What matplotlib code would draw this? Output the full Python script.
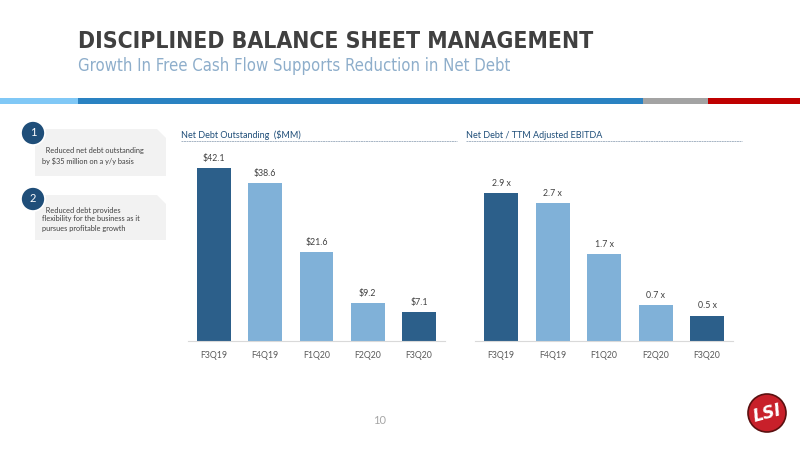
import matplotlib.pyplot as plt
from matplotlib.patches import Polygon, Circle, Rectangle

quarters = ['F3Q19', 'F4Q19', 'F1Q20', 'F2Q20', 'F3Q20']
net_debt = [42.1, 38.6, 21.6, 9.2, 7.1]
leverage = [2.9, 2.7, 1.7, 0.7, 0.5]
debt_labels = ['$42.1', '$38.6', '$21.6', '$9.2', '$7.1']
lev_labels = ['2.9 x', '2.7 x', '1.7 x', '0.7 x', '0.5 x']

title = 'DISCIPLINED BALANCE SHEET MANAGEMENT'
subtitle = 'Growth In Free Cash Flow Supports Reduction in Net Debt'
bullets = [['  Reduced net debt outstanding', 'by $35 million on a y/y basis'],
           ['  Reduced debt provides', 'flexibility for the business as it',
            'pursues profitable growth']]

dark = '#2c5f8a'
light = '#80b1d8'
bar_colors = [dark, light, light, light, dark]
body = ['Lato', 'DejaVu Sans']

W, H = 800, 450
fig = plt.figure(figsize=(8, 4.5), dpi=100)
bg = fig.add_axes([0, 0, 1, 1])
bg.set_xlim(0, W)
bg.set_ylim(H, 0)
bg.axis('off')

# header
bg.text(78, 42, title, family='DejaVu Sans', fontstretch='condensed', fontweight='bold',
        fontsize=16.5, color='#404040', va='center', ha='left')
bg.text(78, 66, subtitle, family='DejaVu Sans', fontstretch='condensed', fontsize=12,
        color='#8eaecb', va='center', ha='left')
for x0, x1, c in [(0, 78, '#80c8f6'), (78, 643, '#2a82c2'),
                  (643, 708, '#a3a3a3'), (708, 800, '#bf0000')]:
    bg.add_patch(Rectangle((x0, 98), x1 - x0, 6, color=c, lw=0))

# bullet boxes
for i, (top, bot) in enumerate([(129, 176), (195, 240)]):
    bg.add_patch(Polygon([(35, top), (157, top), (166, top + 9), (166, bot), (35, bot)],
                         closed=True, color='#f2f2f2', lw=0))
    cy = top + 4
    bg.add_patch(Circle((33, cy), 12, color='#1f4e79', ec='white', lw=1.2, zorder=3))
    bg.text(33, cy, str(i + 1), color='white', fontsize=8, ha='center', va='center',
            family=body, zorder=4)
    ys = [150, 161] if i == 0 else [210, 219, 228]
    for line, y in zip(bullets[i], ys):
        bg.text(42, y, line, fontsize=5.3, color='#404040', ha='left', va='center', family=body)

# chart titles with underline
for x0, x1, txt in [(181, 457, 'Net Debt Outstanding  ($MM)'),
                    (466, 742, 'Net Debt / TTM Adjusted EBITDA')]:
    bg.text(x0, 135, txt, fontsize=6.5, color='#1f4e79', ha='left', va='center', family=body)
    bg.plot([x0, x1], [141, 141], color='#a6b4c4', lw=0.7, ls=(0, (2, 0.6)))

# page number and logo
bg.text(380, 420, '10', fontsize=8, color='#a6a6a6', ha='center', va='center', family=body)
bg.add_patch(Circle((767, 413), 19, color='#c8202a', ec='#5a1010', lw=1.2))
bg.text(767, 413, 'LSI', fontsize=12, color='white', fontweight='bold', style='italic',
        ha='center', va='center', family=['DejaVu Sans'], rotation=15)


def bar_panel(left, right, vals, labels, ymax, px_per_unit):
    base = 341
    top = base - ymax * px_per_unit
    ax = fig.add_axes([left / W, (H - base) / H, (right - left) / W, (base - top) / H])
    x = range(len(vals))
    ax.bar(x, vals, width=0.66, color=bar_colors)
    ax.set_xlim(-0.5, len(vals) - 0.5)
    ax.set_ylim(0, ymax)
    ax.set_xticks(list(x))
    ax.set_xticklabels(quarters, fontsize=6.3, color='#595959', family=body)
    ax.tick_params(axis='x', length=0, pad=7)
    ax.set_yticks([])
    for s in ['top', 'right', 'left']:
        ax.spines[s].set_visible(False)
    ax.spines['bottom'].set_color('#d9d9d9')
    ax.spines['bottom'].set_linewidth(0.8)
    ax.patch.set_alpha(0)
    for xi, v, lab in zip(x, vals, labels):
        ax.annotate(lab, (xi, v), xytext=(0, 7), textcoords='offset points',
                    ha='center', va='center', fontsize=6.3, color='#404040', family=body)
    return ax


bar_panel(188.4, 444.6, net_debt, debt_labels, 50, 4.1)
bar_panel(475.3, 732.8, leverage, lev_labels, 4, 51)

fig.savefig('out.png', dpi=100)
